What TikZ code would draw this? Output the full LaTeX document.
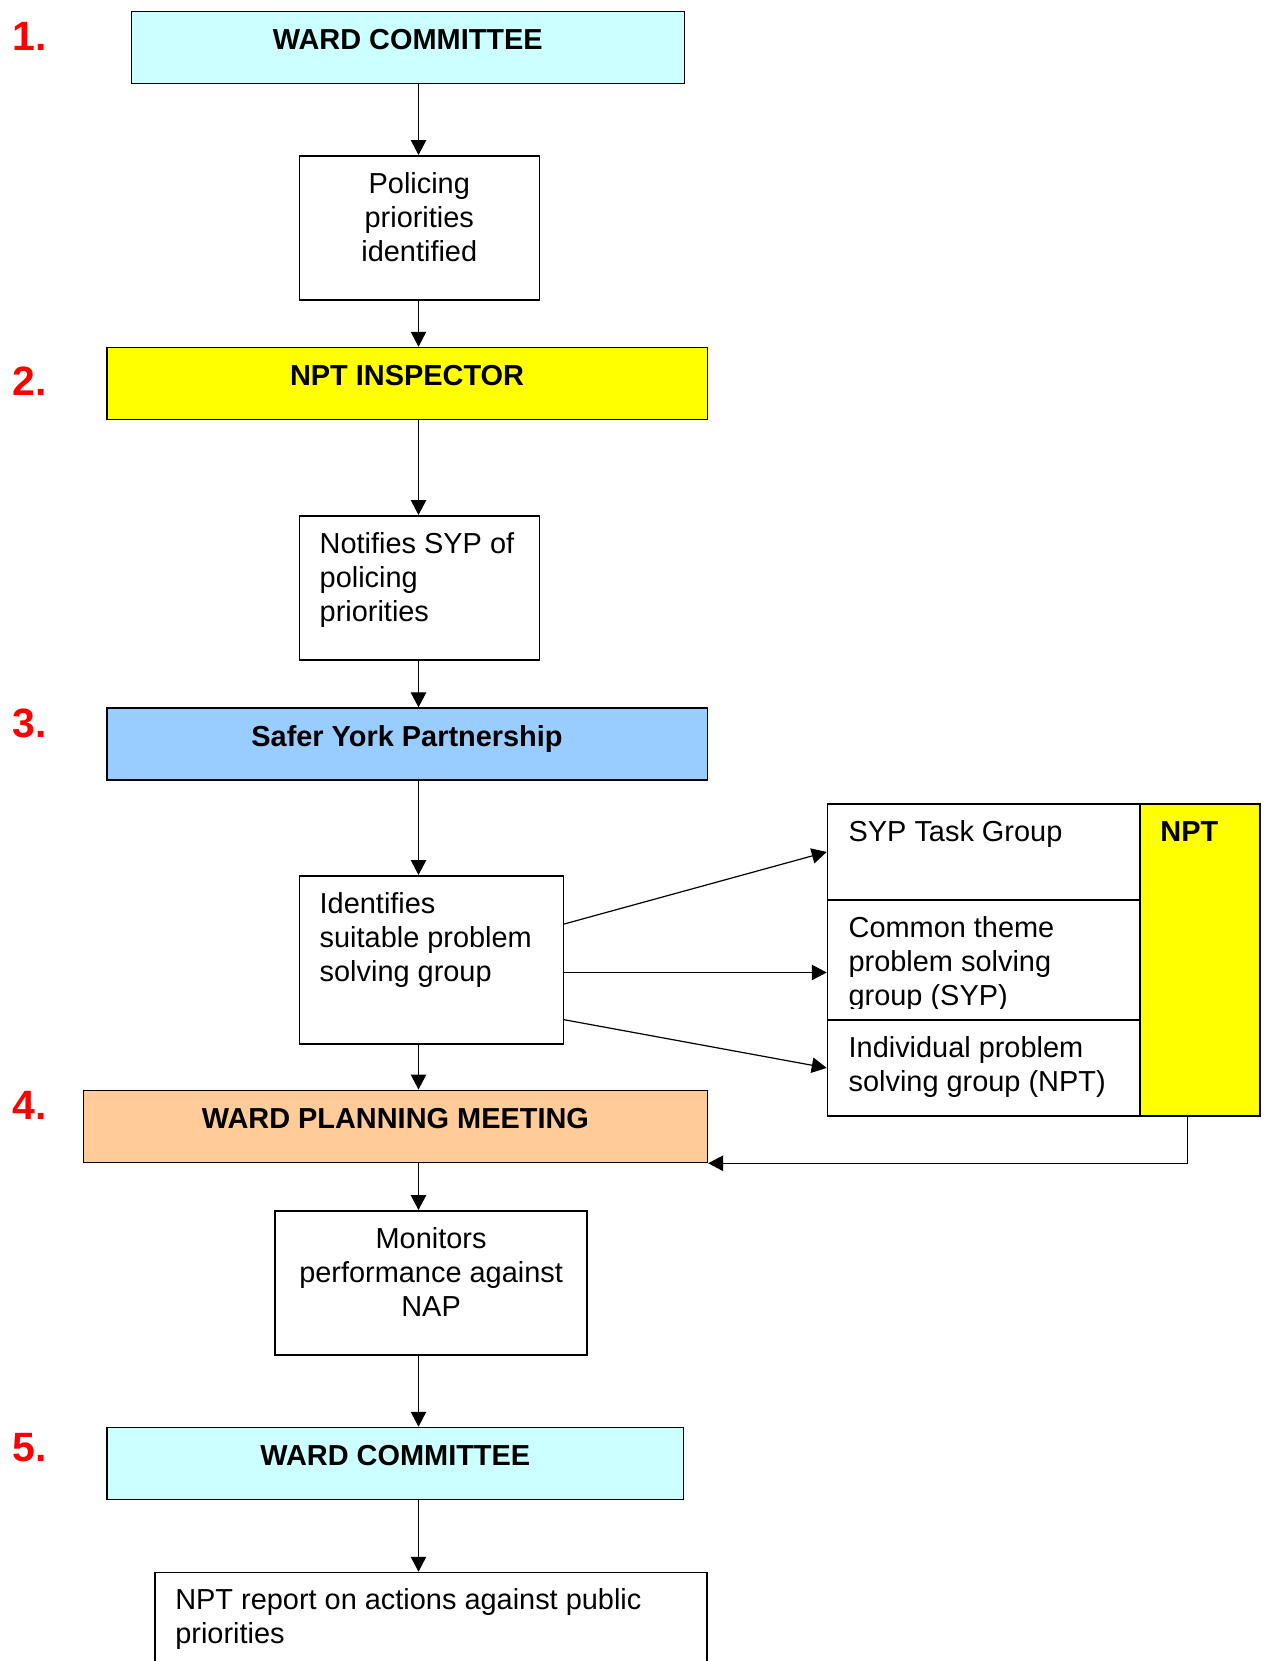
\documentclass[tikz,border=0pt]{standalone}
\usepackage{fontspec}
\setmainfont{Liberation Sans}
\usetikzlibrary{arrows.meta}
\definecolor{wardcyan}{HTML}{CCFFFF}
\definecolor{nptyellow}{HTML}{FFFF00}
\definecolor{syblue}{HTML}{99CCFF}
\definecolor{planorange}{HTML}{FFCC99}
\definecolor{stepred}{HTML}{FF0000}
\newcommand{\pxu}{0.415pt}
\tikzset{
  flowbox/.style={draw, fill=white, line width=0.65pt, anchor=north west, inner sep=0pt},
  boxtitle/.style={anchor=base, inner sep=0pt, font=\bfseries\fontsize{12}{14.1}\selectfont},
  boxtext/.style={inner sep=0pt, font=\fontsize{12}{14.1}\selectfont},
  steplabel/.style={anchor=base west, inner sep=0pt, text=stepred, font=\bfseries\fontsize{17}{20}\selectfont},
  flow/.style={-{Triangle[length=6.2pt,width=6.4pt]}, line width=0.5pt}
}
\begin{document}
\begin{tikzpicture}[x=\pxu, y=-\pxu]
\clip (0,0) rectangle (1266,1661);
\fill[white] (0,0) rectangle (1266,1661);

\node[flowbox, fill=wardcyan, minimum width={553*\pxu}, minimum height={72*\pxu}] (ward1) at (130.5,10.7) {};
\node[flowbox, minimum width={240*\pxu}, minimum height={144*\pxu}] (pol) at (298.5,155) {};
\node[flowbox, fill=nptyellow, minimum width={600.5*\pxu}, minimum height={72*\pxu}] (insp) at (106,346.7) {};
\node[flowbox, minimum width={240*\pxu}, minimum height={144*\pxu}] (notif) at (298.5,515) {};
\node[flowbox, fill=syblue, minimum width={600.5*\pxu}, minimum height={72*\pxu}] (syp) at (106,707.3) {};
\node[flowbox, minimum width={264*\pxu}, minimum height={168.3*\pxu}] (ident) at (298.5,875) {};
\node[flowbox, fill=planorange, minimum width={624*\pxu}, minimum height={72.2*\pxu}] (plan) at (82.6,1089.5) {};
\node[flowbox, minimum width={312*\pxu}, minimum height={144*\pxu}] (mon) at (274.3,1210) {};
\node[flowbox, fill=wardcyan, minimum width={576.2*\pxu}, minimum height={72*\pxu}] (ward5) at (106.4,1426.7) {};
\node[flowbox, minimum width={552.3*\pxu}, minimum height={150*\pxu}] (rep) at (154.1,1571.7) {};

\node[flowbox, minimum width={312.3*\pxu}, minimum height={95.7*\pxu}] (tg) at (826.7,803.3) {};
\node[flowbox, minimum width={312.3*\pxu}, minimum height={120.3*\pxu}] (ct) at (826.7,899) {};
\node[flowbox, minimum width={312.3*\pxu}, minimum height={95.7*\pxu}] (ind) at (826.7,1019.3) {};
\node[flowbox, fill=nptyellow, minimum width={120*\pxu}, minimum height={311.7*\pxu}] (npt) at (1139,803.3) {};

\node[steplabel] (n1) at (12.5,50.7) {1.};
\node[steplabel] (n2) at (12.5,395) {2.};
\node[steplabel] (n3) at (12.5,737.3) {3.};
\node[steplabel] (n4) at (12.5,1119) {4.};
\node[steplabel] (n5) at (12.5,1461.7) {5.};

\node[boxtitle] (ward1-t) at ([yshift=-16.3pt]ward1.north) {WARD COMMITTEE};
\node[boxtitle] (insp-t) at ([yshift=-16.3pt]insp.north) {NPT INSPECTOR};
\node[boxtitle] (syp-t) at ([yshift=-16.3pt]syp.north) {Safer York Partnership};
\node[boxtitle] (plan-t) at ([yshift=-16.3pt]plan.north) {WARD PLANNING MEETING};
\node[boxtitle] (ward5-t) at ([yshift=-16.3pt]ward5.north) {WARD COMMITTEE};
\node[boxtitle, anchor=base west] (npt-t) at ([xshift=8.7pt,yshift=-16pt]npt.north west) {NPT};

\node[boxtext, align=center, anchor=north] (pol-t) at ([yshift=-5.8pt]pol.north) {\strut Policing\\priorities\\identified};
\node[boxtext, align=left, anchor=north west] (notif-t) at ([xshift=8.6pt,yshift=-5.8pt]notif.north west) {\strut Notifies SYP of\\policing\\priorities};
\node[boxtext, align=left, anchor=north west] (ident-t) at ([xshift=8.6pt,yshift=-5.8pt]ident.north west) {\strut Identifies\\suitable problem\\solving group};
\node[boxtext, align=center, anchor=north] (mon-t) at ([yshift=-5.8pt]mon.north) {\strut Monitors\\performance against\\NAP};
\node[boxtext, align=left, anchor=north west] (rep-t) at ([xshift=8.6pt,yshift=-5.8pt]rep.north west) {\strut NPT report on actions against public\\priorities};
\node[boxtext, align=left, anchor=north west] (tg-t) at ([xshift=8.9pt,yshift=-5.8pt]tg.north west) {\strut SYP Task Group};
\begin{scope}
\clip (ct.north west) rectangle ([yshift=5.2pt]ct.south east);
\node[boxtext, align=left, anchor=north west] (ct-t) at ([xshift=8.9pt,yshift=-5.8pt]ct.north west) {\strut Common theme\\problem solving\\group (SYP)};
\end{scope}
\node[boxtext, align=left, anchor=north west] (ind-t) at ([xshift=8.9pt,yshift=-5.8pt]ind.north west) {\strut Individual problem\\solving group (NPT)};

\coordinate (spine) at (418.5,0);
\foreach \a/\b in {ward1/pol, pol/insp, insp/notif, notif/syp, syp/ident, ident/plan, plan/mon, mon/ward5, ward5/rep}
  \draw[flow] (\a.south -| spine) -- (\b.north -| spine);

\draw[flow] ([yshift=14.9pt]ident.east) -- (tg.west);
\draw[flow] ([yshift=-5.2pt]ident.east) -- ([yshift=-5.2pt]ident.east -| ct.west);
\draw[flow] ([yshift=-24.8pt]ident.east) -- (ind.west);
\draw[flow] ([xshift=-5.1pt]npt.south) |- (plan.south east);
\end{tikzpicture}
\end{document}
